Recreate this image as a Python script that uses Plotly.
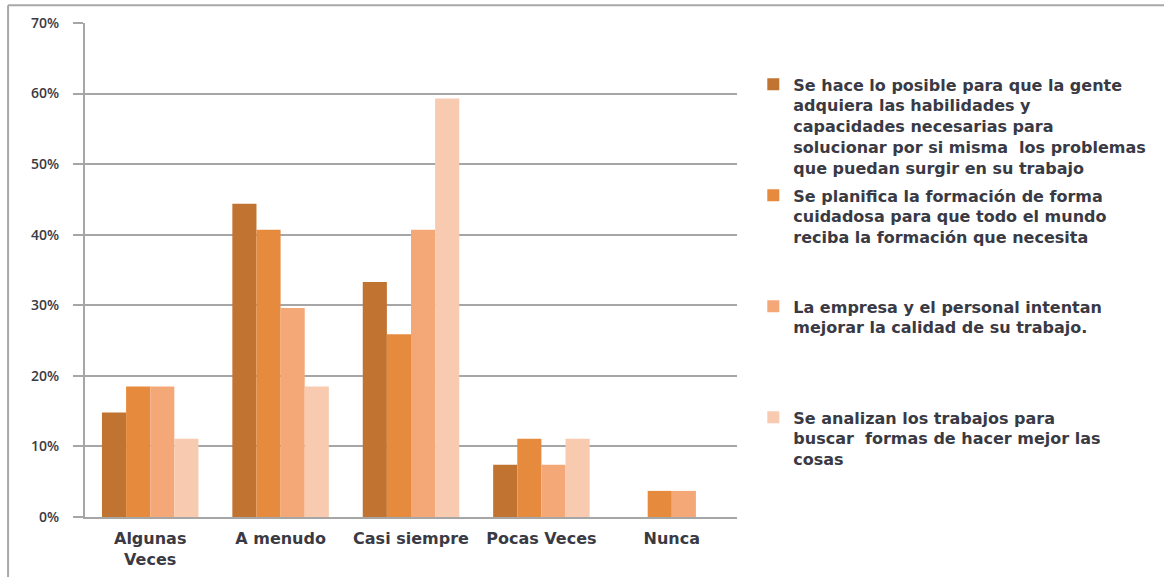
import plotly.graph_objects as go

# Response categories on the x axis
categories = ["Algunas<br>Veces", "A menudo", "Casi siempre", "Pocas Veces", "Nunca"]

# Share of answers per statement (fractions of 1)
serie_habilidades = [0.148, 0.444, 0.333, 0.074, 0.0]
serie_planifica = [0.185, 0.407, 0.259, 0.111, 0.037]
serie_calidad = [0.185, 0.296, 0.407, 0.074, 0.037]
serie_analizan = [0.111, 0.185, 0.593, 0.111, 0.0]

series_names = [
    "Se hace lo posible para que la gente<br>adquiera las habilidades y<br>capacidades necesarias para<br>solucionar por si misma  los problemas<br>que puedan surgir en su trabajo",
    "Se planifica la formación de forma<br>cuidadosa para que todo el mundo<br>reciba la formación que necesita<br> <br> ",
    "La empresa y el personal intentan<br>mejorar la calidad de su trabajo.<br> <br> <br> ",
    "Se analizan los trabajos para<br>buscar  formas de hacer mejor las<br>cosas",
]
series_values = [serie_habilidades, serie_planifica, serie_calidad, serie_analizan]
series_colors = ["#C17431", "#E68B3E", "#F5A877", "#F8CAB0"]

yticks = [0, 0.1, 0.2, 0.3, 0.4, 0.5, 0.6, 0.7]
ytick_labels = ["0%", "10%", "20%", "30%", "40%", "50%", "60%", "70%"]

FONT = "DejaVu Sans"
TEXT_COLOR = "#3a3a44"
GRID = "#A6A6A6"

fig = go.Figure()
for i, (name, vals, color) in enumerate(zip(series_names, series_values, series_colors)):
    fig.add_trace(go.Bar(
        x=categories, y=vals, name=name, legendgroup=f"g{i}",
        marker=dict(color=color, line=dict(width=0)),
    ))

fig.update_layout(
    width=1164, height=577,
    margin=dict(l=85, r=427, t=23, b=60),
    paper_bgcolor="white", plot_bgcolor="white",
    barmode="group", bargap=0.26, bargroupgap=0,
    font=dict(family=FONT, size=15, color=TEXT_COLOR),
    showlegend=True,
    legend=dict(
        x=1.025, y=0.91, xanchor="left", yanchor="top",
        valign="top", tracegroupgap=4,
        font=dict(family=FONT, size=16, color=TEXT_COLOR, weight="bold"),
        bgcolor="rgba(0,0,0,0)", itemclick=False,
    ),
    xaxis=dict(
        showgrid=False, showline=True, linecolor=GRID, linewidth=2,
        ticks="", ticklabelstandoff=6, automargin=False,
        tickfont=dict(family=FONT, size=16, color=TEXT_COLOR, weight="bold"),
    ),
    yaxis=dict(
        range=[0, 0.7], tickvals=yticks, ticktext=ytick_labels,
        showgrid=True, gridcolor=GRID, gridwidth=1.5,
        showline=True, linecolor=GRID, linewidth=2,
        ticks="outside", ticklen=10, tickcolor=GRID, tickwidth=1.5,
        ticklabelstandoff=11, zeroline=False, automargin=False,
        tickfont=dict(family="Open Sans", size=14, color=TEXT_COLOR, weight=600),
    ),
)

# Chart frame: left and top edges of the outer border
fig.add_shape(type="line", xref="paper", yref="paper",
              x0=-0.118, x1=-0.118, y0=1.036, y1=-0.13,
              line=dict(color="#A8A8A8", width=2))
fig.add_shape(type="line", xref="paper", yref="paper",
              x0=-0.118, x1=1.66, y0=1.036, y1=1.036,
              line=dict(color="#A8A8A8", width=2))

fig.write_html("out.html")
